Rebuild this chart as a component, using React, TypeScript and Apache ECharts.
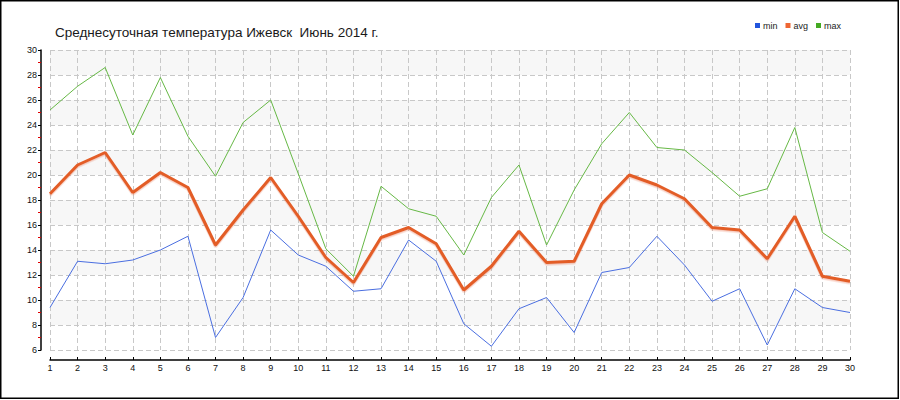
import React, { useEffect, useRef } from "react";
import * as echarts from "echarts";

const days = ["1","2","3","4","5","6","7","8","9","10","11","12","13","14","15","16","17","18","19","20","21","22","23","24","25","26","27","28","29","30"];
const minVals = [9.4,13.1,12.9,13.2,14.0,15.1,7.0,10.2,15.6,13.6,12.7,10.7,10.9,14.8,13.1,8.1,6.3,9.3,10.2,7.4,12.2,12.6,15.1,12.8,9.9,10.9,6.4,10.9,9.4,9.0];
const avgVals = [18.5,20.8,21.8,18.6,20.2,19.0,14.4,17.2,19.8,16.7,13.4,11.4,15.0,15.8,14.5,10.8,12.7,15.5,13.0,13.1,17.7,20.0,19.2,18.1,15.8,15.6,13.3,16.7,11.9,11.5];
const maxVals = [25.2,27.1,28.6,23.2,27.8,23.1,19.9,24.2,26.0,20.1,14.1,11.9,19.1,17.3,16.7,13.6,18.2,20.8,14.4,18.8,22.5,25.0,22.2,22.0,20.2,18.3,18.9,23.8,15.4,13.9];
const titleText = "Среднесуточная температура Ижевск  Июнь 2014 г.";

export default function App() {
  const ref = useRef<HTMLDivElement>(null);
  useEffect(() => {
    document.body.style.margin = "0";
    const chart = echarts.init(ref.current!, null, { renderer: "svg" });
    const font = "Liberation Sans";
    chart.setOption({
      animation: false,
      backgroundColor: "#fff",
      title: {
        text: titleText,
        left: 50,
        top: 20,
        textStyle: { fontFamily: font, fontSize: 13.5, fontWeight: "normal", color: "#1a1a1a" },
      },
      legend: {
        left: 750,
        top: 16,
        icon: "rect",
        itemWidth: 5,
        itemHeight: 5,
        itemGap: 8,
        textStyle: { fontFamily: font, fontSize: 9, color: "#222", padding: [0, 0, 0, -2] },
        data: ["min", "avg", "max"],
      },
      grid: { left: 50, right: 50, top: 50, bottom: 50 },
      xAxis: {
        type: "category",
        data: days,
        boundaryGap: false,
        offset: 10,
        axisLine: { lineStyle: { color: "#000", width: 1.5 } },
        axisTick: { show: true, inside: true, length: 3, interval: 0, lineStyle: { color: "#000" } },
        axisLabel: { interval: 0, margin: 3, fontFamily: font, fontSize: 9, color: "#111" },
        splitLine: { show: true, interval: 0, lineStyle: { color: "#c8c8c8", type: [5, 3] } },
      },
      yAxis: {
        type: "value",
        min: 6,
        max: 30,
        interval: 2,
        offset: 9,
        axisLine: { show: true, lineStyle: { color: "#000", width: 1.5 } },
        axisTick: { show: true, length: 3, lineStyle: { color: "#000" } },
        minorTick: { show: true, splitNumber: 2, length: 3, lineStyle: { color: "#e00000" } },
        axisLabel: { margin: 4, fontFamily: font, fontSize: 9, color: "#111" },
        splitLine: { show: true, lineStyle: { color: "#c8c8c8", type: [5, 3] } },
        splitArea: { show: true, areaStyle: { color: ["#ffffff", "#f7f7f7"] } },
      },
      series: [
        {
          name: "min",
          type: "line",
          data: minVals,
          showSymbol: false,
          itemStyle: { color: "#2255dd" },
          lineStyle: { color: "#4a6ee0", width: 1 },
        },
        {
          name: "avg",
          type: "line",
          data: avgVals,
          showSymbol: false,
          itemStyle: { color: "#ee6633" },
          lineStyle: {
            color: "#e35d28",
            width: 3,
            shadowColor: "rgba(230,110,70,0.35)",
            shadowBlur: 1,
            shadowOffsetY: 1.5,
          },
        },
        {
          name: "max",
          type: "line",
          data: maxVals,
          showSymbol: false,
          itemStyle: { color: "#44aa22" },
          lineStyle: { color: "#66b845", width: 1 },
        },
      ],
      graphic: [
        {
          type: "rect",
          shape: { x: 0.75, y: 0.75, width: 897.5, height: 397.5 },
          style: { fill: "none", stroke: "#000", lineWidth: 1.5 },
          silent: true,
        },
      ],
    });
    return () => chart.dispose();
  }, []);
  return <div ref={ref} style={{ width: 900, height: 400 }} />;
}
